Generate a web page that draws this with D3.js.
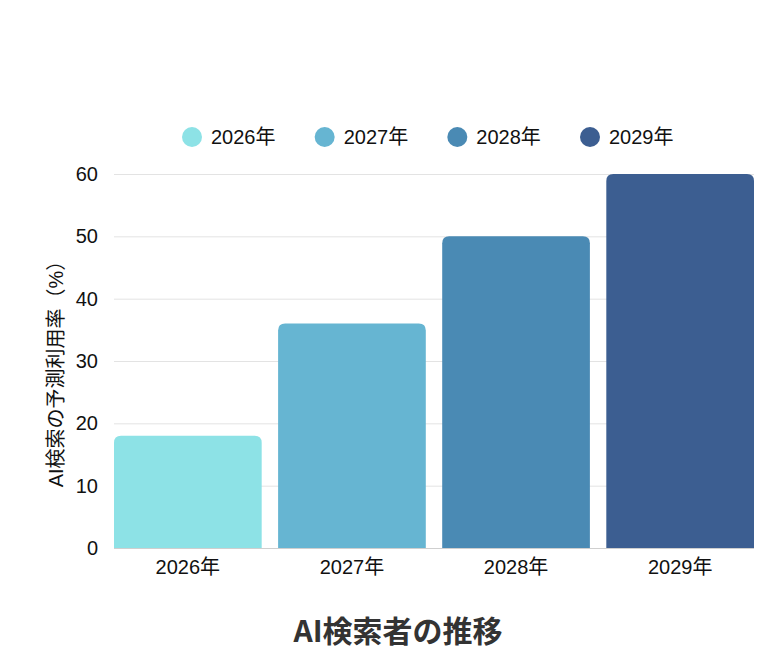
<!DOCTYPE html>
<html><head><meta charset="utf-8">
<script src="https://cdn.jsdelivr.net/npm/d3@7"></script>
<style>body{margin:0;background:#fff}svg{display:block}</style>
</head><body>
<script>
const categories = ["2026年","2027年","2028年","2029年"];
const values = [18, 36, 50, 60];
const colors = ["#8de2e6","#66b5d2","#4a8ab4","#3c5e91"];
const yTicks = [0,10,20,30,40,50,60];
const yTitle = "AI検索の予測利用率（%）";
const chartTitle = "AI検索者の推移";

const W = 778, H = 668;
const font = "'Liberation Sans', Arial, 'Noto Sans CJK JP', sans-serif";
const svg = d3.select("body").append("svg").attr("width", W).attr("height", H)
  .style("font-family", font);

const x = d3.scaleBand().domain(categories).range([114, 754]).paddingInner(0.1).paddingOuter(0);
const y = d3.scaleLinear().domain([0, 60]).range([548, 174]);

// gridlines
svg.append("g").selectAll("line").data(yTicks).join("line")
  .attr("x1", 114).attr("x2", 754)
  .attr("y1", d => y(d) + 0.5).attr("y2", d => y(d) + 0.5)
  .attr("stroke", d => d === 0 ? "#cfcfcf" : "#e3e3e3").attr("stroke-width", 1);

// y axis labels
const yAxis = d3.axisLeft(y).tickValues(yTicks).tickSize(0).tickPadding(0);
const gy = svg.append("g").attr("transform", "translate(98,0)").call(yAxis);
gy.select(".domain").remove();
gy.selectAll("text").attr("font-size", 20).attr("fill", "#111").style("font-family", font);

// x axis labels
const xAxis = d3.axisBottom(x).tickSize(0).tickPadding(0);
const gx = svg.append("g").attr("transform", "translate(0,560)").call(xAxis);
gx.select(".domain").remove();
gx.selectAll("text").attr("font-size", 20).attr("fill", "#111").style("font-family", font);

// bars with rounded top corners
const r = 7;
function barPath(x0, w, yTop, yBase) {
  const rr = Math.min(r, (yBase - yTop), w / 2);
  return `M${x0},${yBase}V${yTop + rr}Q${x0},${yTop} ${x0 + rr},${yTop}H${x0 + w - rr}Q${x0 + w},${yTop} ${x0 + w},${yTop + rr}V${yBase}Z`;
}
svg.append("g").selectAll("path").data(values).join("path")
  .attr("d", (d, i) => barPath(x(categories[i]), x.bandwidth(), y(d), y(0)))
  .attr("fill", (d, i) => colors[i]);

// y title
svg.append("text")
  .attr("transform", "translate(63,369) rotate(-90)")
  .attr("text-anchor", "middle")
  .attr("font-size", 20).attr("fill", "#111")
  .text(yTitle);

// legend
const legendX = d3.scalePoint().domain(categories).range([192, 590]);
const lg = svg.append("g").selectAll("g").data(categories).join("g")
  .attr("transform", d => `translate(${legendX(d)},137)`);
lg.append("circle").attr("r", 10).attr("fill", (d, i) => colors[i]);
lg.append("text").attr("x", 19).attr("dy", "0.35em")
  .attr("font-size", 20).attr("fill", "#111").text(d => d);

// title
svg.append("text").attr("x", 398).attr("y", 642).attr("text-anchor", "middle")
  .attr("font-size", 30).attr("font-weight", "bold").attr("fill", "#333")
  .style("font-family", "'Noto Sans CJK JP', sans-serif")
  .text(chartTitle);
</script>
</body></html>
